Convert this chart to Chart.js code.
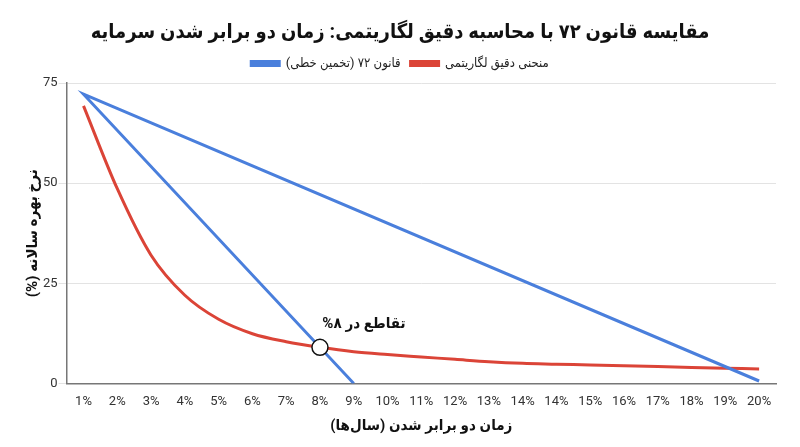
<!DOCTYPE html>
<html>
<head>
<meta charset="utf-8">
<script src="https://cdn.jsdelivr.net/npm/chart.js@4.4.1/dist/chart.umd.min.js"></script>
<style>
    html, body { margin: 0; padding: 0; background: #fff; }
    #wrap { width: 800px; height: 447px; }
</style>
</head>
<body>
<div id="wrap"><canvas id="myChart" dir="rtl"></canvas></div>
<script>
// x-axis labels as they appear on the chart (14% shows up twice)
const labels = ["1%", "2%", "3%", "4%", "5%", "6%", "7%", "8%", "9%", "10%", "11%",
    "12%", "13%", "14%", "14%", "15%", "16%", "17%", "18%", "19%", "20%"];

// red curve at each label
const exactValues = [69.3, 48.6, 32.0, 22.0, 16.0, 12.4, 10.4, 9.0, 7.9, 7.2, 6.6,
    6.0, 5.4, 5.0, 4.8, 4.6, 4.4, 4.2, 4.0, 3.8, 3.6];

// blue polyline: from 20% up to 1% and back down to 9%
const ruleX = ["20%", "1%", "9%"];
const ruleY = [0.6, 72.2, 0];

// intersection marker
const crossX = "8%";
const crossY = 9.0;
const crossText = "تقاطع در ۸%";

const faFont = "Roboto, 'DejaVu Sans Condensed', 'DejaVu Sans', sans-serif";

const ruleData = ruleX.map((x, i) => ({ x: x, y: ruleY[i] }));

//Label next to the intersection point
const crossLabel = {
    id: "crossLabel",
    afterDatasetsDraw(chart) {
        const ctx = chart.ctx;
        const xs = chart.scales.x;
        const ys = chart.scales.y;
        const px = xs.getPixelForValue(labels.indexOf(crossX));
        const py = ys.getPixelForValue(crossY);
        ctx.save();
        ctx.direction = "rtl";
        ctx.font = "bold 15px " + faFont;
        ctx.fillStyle = "#111";
        ctx.textAlign = "center";
        ctx.textBaseline = "middle";
        ctx.fillText(crossText, px + 44, py - 23);
        ctx.restore();
    },
};

//A bit more room under the legend
const legendGap = {
    id: "legendGap",
    beforeInit(chart) {
        const fit = chart.legend.fit;
        chart.legend.fit = function () {
            fit.bind(chart.legend)();
            this.height += 3;
        };
    },
};

const config = {
    type: "line",
    data: {
        labels: labels,
        datasets: [
            {
                label: "نقطه تقاطع",
                data: [{ x: crossX, y: crossY }],
                showLine: false,
                pointRadius: 8,
                pointBackgroundColor: "#fff",
                pointBorderColor: "#111",
                pointBorderWidth: 1.5,
            },
            {
                label: "قانون ۷۲ (تخمین خطی)",
                data: ruleData,
                borderColor: "#4a7fdc",
                backgroundColor: "#4a7fdc",
                borderWidth: 3,
                pointRadius: 0,
                tension: 0,
            },
            {
                label: "منحنی دقیق لگاریتمی",
                data: exactValues,
                borderColor: "#db4437",
                backgroundColor: "#db4437",
                borderWidth: 3,
                pointRadius: 0,
                cubicInterpolationMode: "monotone",
            },
        ],
    },
    options: {
        responsive: true,
        maintainAspectRatio: false,
        animation: false,
        layout: { padding: { left: 24, right: 24, bottom: 8 } },
        plugins: {
            title: {
                display: true,
                text: "مقایسه قانون ۷۲ با محاسبه دقیق لگاریتمی: زمان دو برابر شدن سرمایه",
                color: "#111",
                font: { family: faFont, size: 20, weight: "bold" },
                padding: { top: 21, bottom: 2 },
            },
            legend: {
                labels: {
                    color: "#222",
                    font: { family: faFont, size: 13 },
                    boxWidth: 28,
                    boxHeight: 4,
                    filter: (item) => item.datasetIndex > 0,
                },
            },
            tooltip: { enabled: false },
        },
        scales: {
            x: {
                offset: true,
                grid: { display: false },
                border: { color: "#777", width: 1.5 },
                ticks: {
                    color: "#333",
                    font: { family: faFont, size: 13 },
                    maxRotation: 0,
                    autoSkip: false,
                },
                title: {
                    display: true,
                    text: "زمان دو برابر شدن (سال‌ها)",
                    color: "#111",
                    font: { family: faFont, size: 15, weight: "bold" },
                },
            },
            y: {
                min: 0,
                max: 75,
                ticks: {
                    stepSize: 25,
                    padding: 1,
                    color: "#333",
                    font: { family: faFont, size: 13 },
                },
                grid: { color: "#e3e3e3" },
                border: { color: "#777", width: 1.5 },
                title: {
                    display: true,
                    text: "نرخ بهره سالانه (%)",
                    color: "#111",
                    padding: 0,
                    font: { family: faFont, size: 15, weight: "bold" },
                },
            },
        },
    },
    plugins: [crossLabel, legendGap],
};

const myChart = new Chart(document.querySelector("#myChart"), config);
</script>
</body>
</html>
